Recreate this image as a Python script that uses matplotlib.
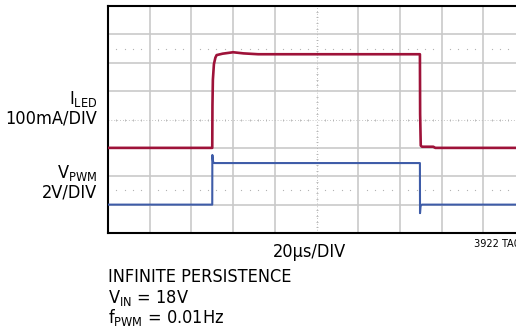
import matplotlib.pyplot as plt
import numpy as np
from matplotlib import font_manager

# prefer a narrow sans face for the annotations if one is installed
narrow = None
for f in font_manager.fontManager.ttflist:
    if f.name in ("Liberation Sans Narrow", "Roboto Condensed", "Open Sans Condensed") or (
        f.name == "DejaVu Sans" and f.stretch == "condensed"
    ):
        narrow = f
        break

if narrow is not None:
    plt.rcParams["font.family"] = [narrow.name, "DejaVu Sans"]
    plt.rcParams["font.stretch"] = narrow.stretch
    label_size = 13.0
else:
    plt.rcParams["font.family"] = ["Liberation Sans", "DejaVu Sans"]
    label_size = 11.3

# scope settings
time_per_div = 20.0      # µs/DIV
iled_per_div = 100.0     # mA/DIV
vpwm_per_div = 2.0       # V/DIV

# LED current trace, mA vs µs
t_led = [0, 50.0, 50.1, 50.3, 50.8, 51.5, 52.1, 55, 60, 65, 72, 100, 149.6, 149.7, 150.0, 150.6, 156, 157, 200]
i_led = [0, 0, 150, 240, 295, 318, 327, 332, 337, 333, 330, 330, 330, 120, 8, 4, 4, 0, 0]

# PWM input trace, V vs µs
t_pwm = [0, 50.0, 50.05, 50.4, 51.0, 100, 149.6, 149.65, 149.9, 150.5, 200]
v_pwm = [0, 0, 3.5, 3.0, 2.93, 2.93, 2.93, -0.6, -0.1, 0, 0]

# vertical positions of each channel's ground, in divisions from bottom
led_ground_div = 3.0
pwm_ground_div = 1.0

red = "#9e1239"
blue = "#3e5ca8"
grid_gray = "#c9c9c9"
dot_gray = "#b0b0b0"

W, H = 516, 329
fig = plt.figure(figsize=(W / 100, H / 100), dpi=100)
ax = fig.add_axes([108 / W, 96 / H, 417 / W, 227 / H])
ax.set_xlim(0, 10)
ax.set_ylim(0, 8)
ax.set_xticks([])
ax.set_yticks([])
for side in ["left", "top", "bottom"]:
    ax.spines[side].set_linewidth(1.5)
    ax.spines[side].set_color("black")
ax.spines["right"].set_visible(False)

# major grid
for x in range(1, 10):
    if x != 5:
        ax.axvline(x, color=grid_gray, lw=1.2, zorder=1)
for y in range(1, 8):
    if y != 4:
        ax.axhline(y, color=grid_gray, lw=1.2, zorder=1)

# center axes with minor ticks
minor = np.arange(0.2, 10, 0.2)
minor = minor[np.abs(minor - np.round(minor)) > 1e-6]
minor_y = np.arange(0.2, 8, 0.2)
minor_y = minor_y[np.abs(minor_y - np.round(minor_y)) > 1e-6]
ax.axvline(5, color=dot_gray, lw=0.6, ls=(0, (1, 2.5)), zorder=1)
ax.axhline(4, color=dot_gray, lw=0.6, ls=(0, (1, 2.5)), zorder=1)
ax.plot(np.full_like(minor_y, 5), minor_y, ls="none", marker="_", ms=2, mew=0.6, color=dot_gray, zorder=1)
ax.plot(minor, np.full_like(minor, 4), ls="none", marker="|", ms=2, mew=0.6, color=dot_gray, zorder=1)

# 0% / 100% reference dots
for y in (1.5, 6.5):
    ax.plot(minor, np.full_like(minor, y), ls="none", marker="s", ms=0.8, mew=0, color="#b4b4b4", zorder=1)

# traces
tx_led = np.array(t_led) / time_per_div
ty_led = led_ground_div + np.array(i_led) / iled_per_div
ax.plot(tx_led, ty_led, color=red, lw=1.9, solid_joinstyle="round", zorder=3)

tx_pwm = np.array(t_pwm) / time_per_div
ty_pwm = pwm_ground_div + np.array(v_pwm) / vpwm_per_div
ax.plot(tx_pwm, ty_pwm, color=blue, lw=1.5, solid_joinstyle="round", zorder=3)


def put(x, y, s, **kw):
    # place text by pixel position measured from the top-left corner
    fig.text(x / W, 1 - y / H, s, va="baseline", fontsize=kw.pop("size", label_size), **kw)


# channel labels
put(97, 104, r"I$_{\mathregular{LED}}$", ha="right")
put(97, 123, "100mA/DIV", ha="right")
put(97, 178, r"V$_{\mathregular{PWM}}$", ha="right")
put(97, 197, "2V/DIV", ha="right")

put(310, 257, "20µs/DIV", ha="center")
put(474, 247, "3922 TA02", ha="left", size=label_size * 0.6)
put(108, 282, "INFINITE PERSISTENCE", ha="left")
put(108, 303, r"V$_{\mathregular{IN}}$ = 18V", ha="left")
put(108, 323, r"f$_{\mathregular{PWM}}$ = 0.01Hz", ha="left")

fig.savefig("out.png", dpi=100)
